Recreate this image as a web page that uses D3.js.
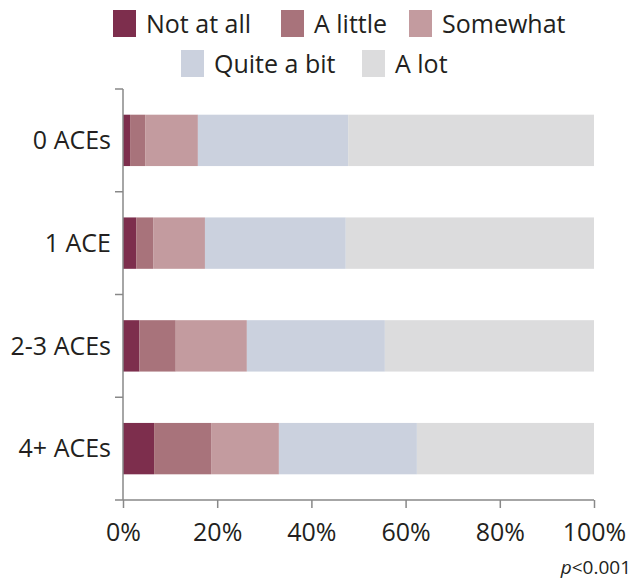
<!DOCTYPE html>
<html lang="en">
<head>
<meta charset="UTF-8">
<title>ACEs chart</title>
<style>
  body { margin:0; background:#fff; }
  svg { display:block; font-family:"Open Sans", sans-serif; }
</style>
</head>
<body>
<svg width="635" height="580"></svg>
<script src="https://cdnjs.cloudflare.com/ajax/libs/d3/7.8.5/d3.min.js"></script>
<script>
// data (percent of each group)
const groups = ["0 ACEs", "1 ACE", "2-3 ACEs", "4+ ACEs"]
const responses = ["Not at all", "A little", "Somewhat", "Quite a bit", "A lot"]
const notAtAll  = [1.5, 2.8, 3.5, 6.6]
const aLittle   = [3.2, 3.6, 7.7, 12.1]
const somewhat  = [11.2, 11.0, 15.1, 14.4]
const quiteABit = [31.9, 29.9, 29.3, 29.3]
const aLot      = [52.2, 52.7, 44.4, 37.6]
const xTicks = [0, 20, 40, 60, 80, 100]
const colors = ["#7d2e4d", "#a8737b", "#c39b9f", "#cbd1de", "#dcdcdd"]

const series = [notAtAll, aLittle, somewhat, quiteABit, aLot]
const rows = groups.map((g, i) => {
  const r = { group: g }
  responses.forEach((k, j) => r[k] = series[j][i])
  return r
})

const svg = d3.select("svg")
const margin = { top: 89, left: 123, right: 41, bottom: 80 }
const W = 635, H = 580
const textColor = "#231f20"

const x = d3.scaleLinear().domain([0, 100]).range([margin.left, W - margin.right])
const y = d3.scaleBand().domain(groups).range([margin.top, H - margin.bottom])
  .paddingInner(0.5).paddingOuter(0.25)
const color = d3.scaleOrdinal().domain(responses).range(colors)

const stacked = d3.stack().keys(responses)(rows)

svg.append("g")
  .selectAll("g")
  .data(stacked)
  .join("g")
    .attr("fill", d => color(d.key))
  .selectAll("rect")
  .data(d => d)
  .join("rect")
    .attr("x", d => x(d[0]))
    .attr("width", d => x(d[1]) - x(d[0]))
    .attr("y", d => y(d.data.group))
    .attr("height", y.bandwidth())

// y axis: ticks sit between the bands
const yAxis = svg.append("g")
yAxis.append("line")
  .attr("x1", margin.left).attr("x2", margin.left)
  .attr("y1", margin.top).attr("y2", H - margin.bottom)
  .attr("stroke", "#888").attr("stroke-width", 1.5)
const edges = [margin.top].concat(groups.slice(1).map((g, i) => (y(groups[i]) + y.bandwidth() + y(g)) / 2))
yAxis.selectAll("line.tk")
  .data(edges)
  .join("line")
    .attr("class", "tk")
    .attr("x1", margin.left - 8).attr("x2", margin.left)
    .attr("y1", d => d).attr("y2", d => d)
    .attr("stroke", "#888").attr("stroke-width", 1.5)
yAxis.selectAll("text")
  .data(groups)
  .join("text")
    .attr("x", margin.left - 12)
    .attr("y", d => y(d) + y.bandwidth() / 2)
    .attr("dy", "0.35em")
    .attr("text-anchor", "end")
    .attr("font-size", 25)
    .attr("fill", textColor)
    .text(d => d)

// x axis
const xAxis = svg.append("g")
  .attr("transform", `translate(0,${H - margin.bottom})`)
  .call(d3.axisBottom(x).tickValues(xTicks).tickFormat(d => d + "%").tickSize(8).tickPadding(15))
xAxis.select(".domain").attr("d", `M${margin.left - 8},0H${W - margin.right}`)
  .attr("stroke", "#888").attr("stroke-width", 1.5)
xAxis.selectAll(".tick line").attr("stroke", "#888").attr("stroke-width", 1.5)
xAxis.selectAll(".tick text")
  .attr("font-family", "'Open Sans', sans-serif")
  .attr("font-size", 25).attr("fill", textColor)

svg.append("text")
  .attr("x", 631).attr("y", 574)
  .attr("text-anchor", "end")
  .attr("font-size", 19).attr("fill", textColor)
  .html('<tspan font-style="italic">p</tspan>&lt;0.001')

// legend
const legendPos = [
  { x: 113, y: 10 }, { x: 281, y: 10 }, { x: 409, y: 10 },
  { x: 181, y: 50 }, { x: 362, y: 50 }
]
const legend = svg.append("g")
  .selectAll("g")
  .data(responses)
  .join("g")
    .attr("transform", (d, i) => `translate(${legendPos[i].x},${legendPos[i].y})`)
legend.append("rect")
  .attr("width", 23).attr("height", 27)
  .attr("fill", d => color(d))
legend.append("text")
  .attr("x", 33).attr("y", 14).attr("dy", "0.35em")
  .attr("font-size", 25).attr("fill", textColor)
  .text(d => d)
</script>
</body>
</html>
